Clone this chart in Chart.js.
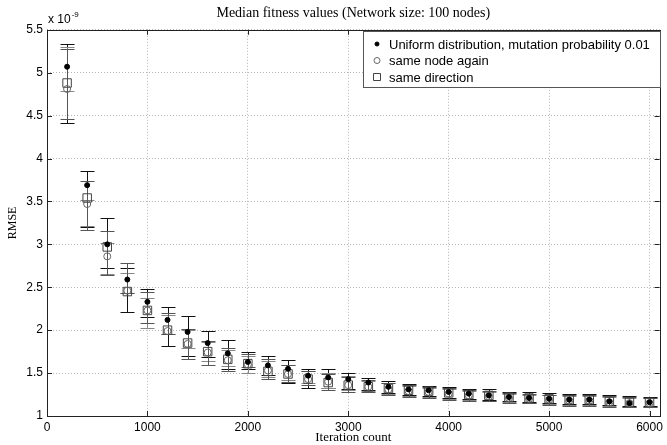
<!DOCTYPE html>
<html>
<head>
<meta charset="utf-8">
<title>Median fitness values</title>
<script src="https://cdn.jsdelivr.net/npm/chart.js@4.4.0/dist/chart.umd.min.js"></script>
<style>
  html, body { margin: 0; padding: 0; background: #fff; }
  canvas { display: block; }
</style>
</head>
<body>
<canvas id="chart" width="667" height="445"></canvas>
<script>
// values in units of 1e-9
const iterations = [200, 400, 600, 800, 1000, 1200, 1400, 1600, 1800, 2000,
  2200, 2400, 2600, 2800, 3000, 3200, 3400, 3600, 3800, 4000,
  4200, 4400, 4600, 4800, 5000, 5200, 5400, 5600, 5800, 6000]

const uniformMedian = [5.07, 3.69, 3.00, 2.59, 2.33, 2.12, 1.98, 1.85, 1.73, 1.63,
  1.59, 1.55, 1.47, 1.45, 1.43, 1.39, 1.34, 1.31, 1.30, 1.28,
  1.26, 1.24, 1.22, 1.21, 1.20, 1.19, 1.19, 1.17, 1.15, 1.16]
const uniformLow = [4.41, 3.20, 2.72, 2.21, 2.15, 1.81, 1.70, 1.69, 1.55, 1.55,
  1.48, 1.38, 1.33, 1.33, 1.32, 1.30, 1.27, 1.24, 1.23, 1.21,
  1.20, 1.19, 1.17, 1.16, 1.15, 1.14, 1.14, 1.13, 1.12, 1.12]
const uniformHigh = [5.33, 3.85, 3.31, 2.73, 2.48, 2.27, 2.17, 1.99, 1.88, 1.75,
  1.70, 1.65, 1.55, 1.55, 1.50, 1.44, 1.41, 1.37, 1.35, 1.34,
  1.31, 1.31, 1.28, 1.28, 1.27, 1.26, 1.26, 1.24, 1.23, 1.22]

const sameNodeMedian = [4.81, 3.47, 2.86, 2.46, 2.23, 1.99, 1.84, 1.74, 1.65, 1.60,
  1.53, 1.49, 1.43, 1.40, 1.36, 1.34, 1.31, 1.29, 1.28, 1.26,
  1.24, 1.23, 1.21, 1.20, 1.19, 1.18, 1.18, 1.16, 1.15, 1.15]
const sameNodeLow = [4.79, 3.21, 2.66, 2.43, 2.03, 1.95, 1.79, 1.64, 1.58, 1.50,
  1.45, 1.42, 1.38, 1.33, 1.30, 1.29, 1.26, 1.23, 1.22, 1.20,
  1.19, 1.18, 1.16, 1.15, 1.14, 1.13, 1.13, 1.12, 1.11, 1.11]
const sameNodeHigh = [5.30, 3.52, 3.02, 2.67, 2.37, 2.18, 2.00, 1.86, 1.77, 1.70,
  1.64, 1.60, 1.53, 1.50, 1.47, 1.41, 1.38, 1.35, 1.33, 1.32,
  1.29, 1.28, 1.26, 1.25, 1.24, 1.23, 1.23, 1.22, 1.21, 1.21]

const sameDirMedian = [4.88, 3.54, 2.97, 2.45, 2.23, 2.00, 1.85, 1.75, 1.66, 1.61,
  1.52, 1.49, 1.43, 1.39, 1.36, 1.34, 1.32, 1.30, 1.29, 1.27,
  1.25, 1.24, 1.22, 1.21, 1.20, 1.19, 1.19, 1.17, 1.16, 1.16]
const sameDirLow = [4.46, 3.17, 2.64, 2.43, 2.08, 1.96, 1.66, 1.59, 1.53, 1.57,
  1.43, 1.40, 1.36, 1.30, 1.28, 1.28, 1.25, 1.22, 1.21, 1.19,
  1.18, 1.17, 1.15, 1.15, 1.13, 1.12, 1.12, 1.11, 1.10, 1.10]
const sameDirHigh = [5.28, 3.74, 3.15, 2.78, 2.44, 2.20, 2.01, 1.87, 1.79, 1.72,
  1.66, 1.59, 1.52, 1.49, 1.45, 1.42, 1.39, 1.36, 1.34, 1.33,
  1.30, 1.29, 1.27, 1.26, 1.25, 1.24, 1.24, 1.23, 1.22, 1.21]

const xTicks = [0, 1000, 2000, 3000, 4000, 5000, 6000]
const yTicks = [1, 1.5, 2, 2.5, 3, 3.5, 4, 4.5, 5, 5.5]

const TITLE = 'Median fitness values (Network size: 100 nodes)'
const EXPONENT = ['x 10', '-9']

const SANS = '"Liberation Sans", Arial, sans-serif'
const SERIF = '"Liberation Serif", "Times New Roman", serif'

function points(median, low, high) {
  return iterations.map((it, i) => ({ x: it, y: median[i], low: low[i], high: high[i] }))
}

// vertical error bars with caps, drawn under the markers
const errorBars = {
  id: 'errorBars',
  beforeDatasetsDraw(chart) {
    const { ctx, scales: { x, y } } = chart
    chart.data.datasets.forEach((ds) => {
      ctx.save()
      ctx.strokeStyle = ds.errorColor
      ctx.lineWidth = 1
      ctx.beginPath()
      ds.data.forEach((p) => {
        const px = Math.round(x.getPixelForValue(p.x)) + 0.5
        const top = Math.round(y.getPixelForValue(p.high)) + 0.5
        const bottom = Math.round(y.getPixelForValue(p.low)) + 0.5
        ctx.moveTo(px, top); ctx.lineTo(px, bottom)
        ctx.moveTo(px - 7, top); ctx.lineTo(px + 7, top)
        ctx.moveTo(px - 7, bottom); ctx.lineTo(px + 7, bottom)
      })
      ctx.stroke()
      ctx.restore()
    })
  }
}

// matlab style box, inward ticks, exponent and legend
const frame = {
  id: 'frame',
  afterDraw(chart) {
    const { ctx, chartArea: a, scales: { x, y } } = chart
    ctx.save()
    ctx.strokeStyle = '#222'
    ctx.lineWidth = 1
    ctx.strokeRect(Math.round(a.left) + 0.5, Math.round(a.top) + 0.5,
      Math.round(a.right - a.left), Math.round(a.bottom - a.top))
    ctx.beginPath()
    xTicks.forEach((v) => {
      const px = Math.round(x.getPixelForValue(v)) + 0.5
      ctx.moveTo(px, a.bottom); ctx.lineTo(px, a.bottom - 5)
      ctx.moveTo(px, a.top); ctx.lineTo(px, a.top + 5)
    })
    yTicks.forEach((v) => {
      const py = Math.round(y.getPixelForValue(v)) + 0.5
      ctx.moveTo(a.left, py); ctx.lineTo(a.left + 5, py)
      ctx.moveTo(a.right, py); ctx.lineTo(a.right - 5, py)
    })
    ctx.stroke()

    // x 10^-9
    ctx.fillStyle = '#000'
    ctx.textBaseline = 'alphabetic'
    ctx.font = '12px ' + SANS
    ctx.fillText(EXPONENT[0], a.left + 1, a.top - 7)
    const w = ctx.measureText(EXPONENT[0]).width
    ctx.font = '8px ' + SANS
    ctx.fillText(EXPONENT[1], a.left + 2 + w, a.top - 13)

    // legend
    const lx = 363, ly = Math.round(a.top) + 1, lw = 297, lh = 56
    ctx.fillStyle = '#fff'
    ctx.fillRect(lx, ly, lw, lh)
    ctx.strokeStyle = '#555'
    ctx.strokeRect(lx + 0.5, ly + 0.5, lw, lh)
    chart.data.datasets.forEach((ds, i) => {
      const cy = ly + 13 + i * 16.5
      const cx = lx + 14
      ctx.fillStyle = ds.backgroundColor
      ctx.strokeStyle = ds.borderColor
      ctx.beginPath()
      if (ds.pointStyle === 'rect') {
        ctx.rect(cx - 3.5, cy - 3.5, 7, 7)
      } else {
        ctx.arc(cx, cy, ds.legendRadius, 0, Math.PI * 2)
      }
      if (ds.backgroundColor !== 'transparent') ctx.fill()
      ctx.stroke()
      ctx.fillStyle = '#000'
      ctx.font = '13px ' + SANS
      ctx.textBaseline = 'middle'
      ctx.fillText(ds.label, lx + 26, cy + 1)
    })
    ctx.restore()
  }
}

const chartConfig = {
  type: 'scatter',
  data: {
    datasets: [
      {
        label: 'Uniform distribution, mutation probability 0.01',
        data: points(uniformMedian, uniformLow, uniformHigh),
        pointStyle: 'circle',
        radius: 2.5,
        backgroundColor: '#000',
        borderColor: '#000',
        borderWidth: 1,
        errorColor: '#111',
        legendRadius: 2
      },
      {
        label: 'same node again',
        data: points(sameNodeMedian, sameNodeLow, sameNodeHigh),
        pointStyle: 'circle',
        radius: 3.5,
        backgroundColor: 'transparent',
        borderColor: '#666',
        borderWidth: 1,
        errorColor: '#888',
        legendRadius: 3
      },
      {
        label: 'same direction',
        data: points(sameDirMedian, sameDirLow, sameDirHigh),
        pointStyle: 'rect',
        radius: 6,
        backgroundColor: 'transparent',
        borderColor: '#444',
        borderWidth: 1,
        errorColor: '#555',
        legendRadius: 5
      }
    ]
  },
  options: {
    responsive: false,
    animation: false,
    events: [],
    layout: { padding: { left: 0, right: 6, top: 0, bottom: 0 } },
    plugins: {
      legend: { display: false },
      tooltip: { enabled: false },
      title: {
        display: true,
        text: TITLE,
        fullSize: false,
        color: '#000',
        font: { family: SERIF, size: 14, weight: 'normal', lineHeight: 1.2 },
        padding: { top: 5, bottom: 8 }
      }
    },
    scales: {
      x: {
        type: 'linear',
        min: 0,
        max: 6100,
        afterBuildTicks: (scale) => { scale.ticks = xTicks.map((value) => ({ value })) },
        afterFit: (scale) => { scale.height = 29 },
        grid: { color: '#b5b5b5', drawTicks: false },
        border: { display: false, dash: [1, 2] },
        ticks: {
          color: '#000',
          padding: 4,
          maxRotation: 0,
          font: { family: SANS, size: 12 },
          callback: (v) => String(v)
        },
        title: {
          display: true,
          text: 'Iteration count',
          color: '#000',
          font: { family: SERIF, size: 13, lineHeight: 1.2 },
          padding: { top: 0, bottom: 0 }
        }
      },
      y: {
        type: 'linear',
        min: 1,
        max: 5.5,
        afterBuildTicks: (scale) => { scale.ticks = yTicks.map((value) => ({ value })) },
        afterFit: (scale) => { scale.width = 47 },
        grid: { color: '#b5b5b5', drawTicks: false },
        border: { display: false, dash: [1, 2] },
        ticks: {
          color: '#000',
          padding: 4,
          font: { family: SANS, size: 12 },
          callback: (v) => String(v)
        },
        title: {
          display: true,
          text: 'RMSE',
          color: '#000',
          font: { family: SERIF, size: 12, lineHeight: 1.2 },
          padding: { top: 6, bottom: 0 }
        }
      }
    }
  },
  plugins: [errorBars, frame]
}

new Chart(document.getElementById('chart').getContext('2d'), chartConfig)
</script>
</body>
</html>
